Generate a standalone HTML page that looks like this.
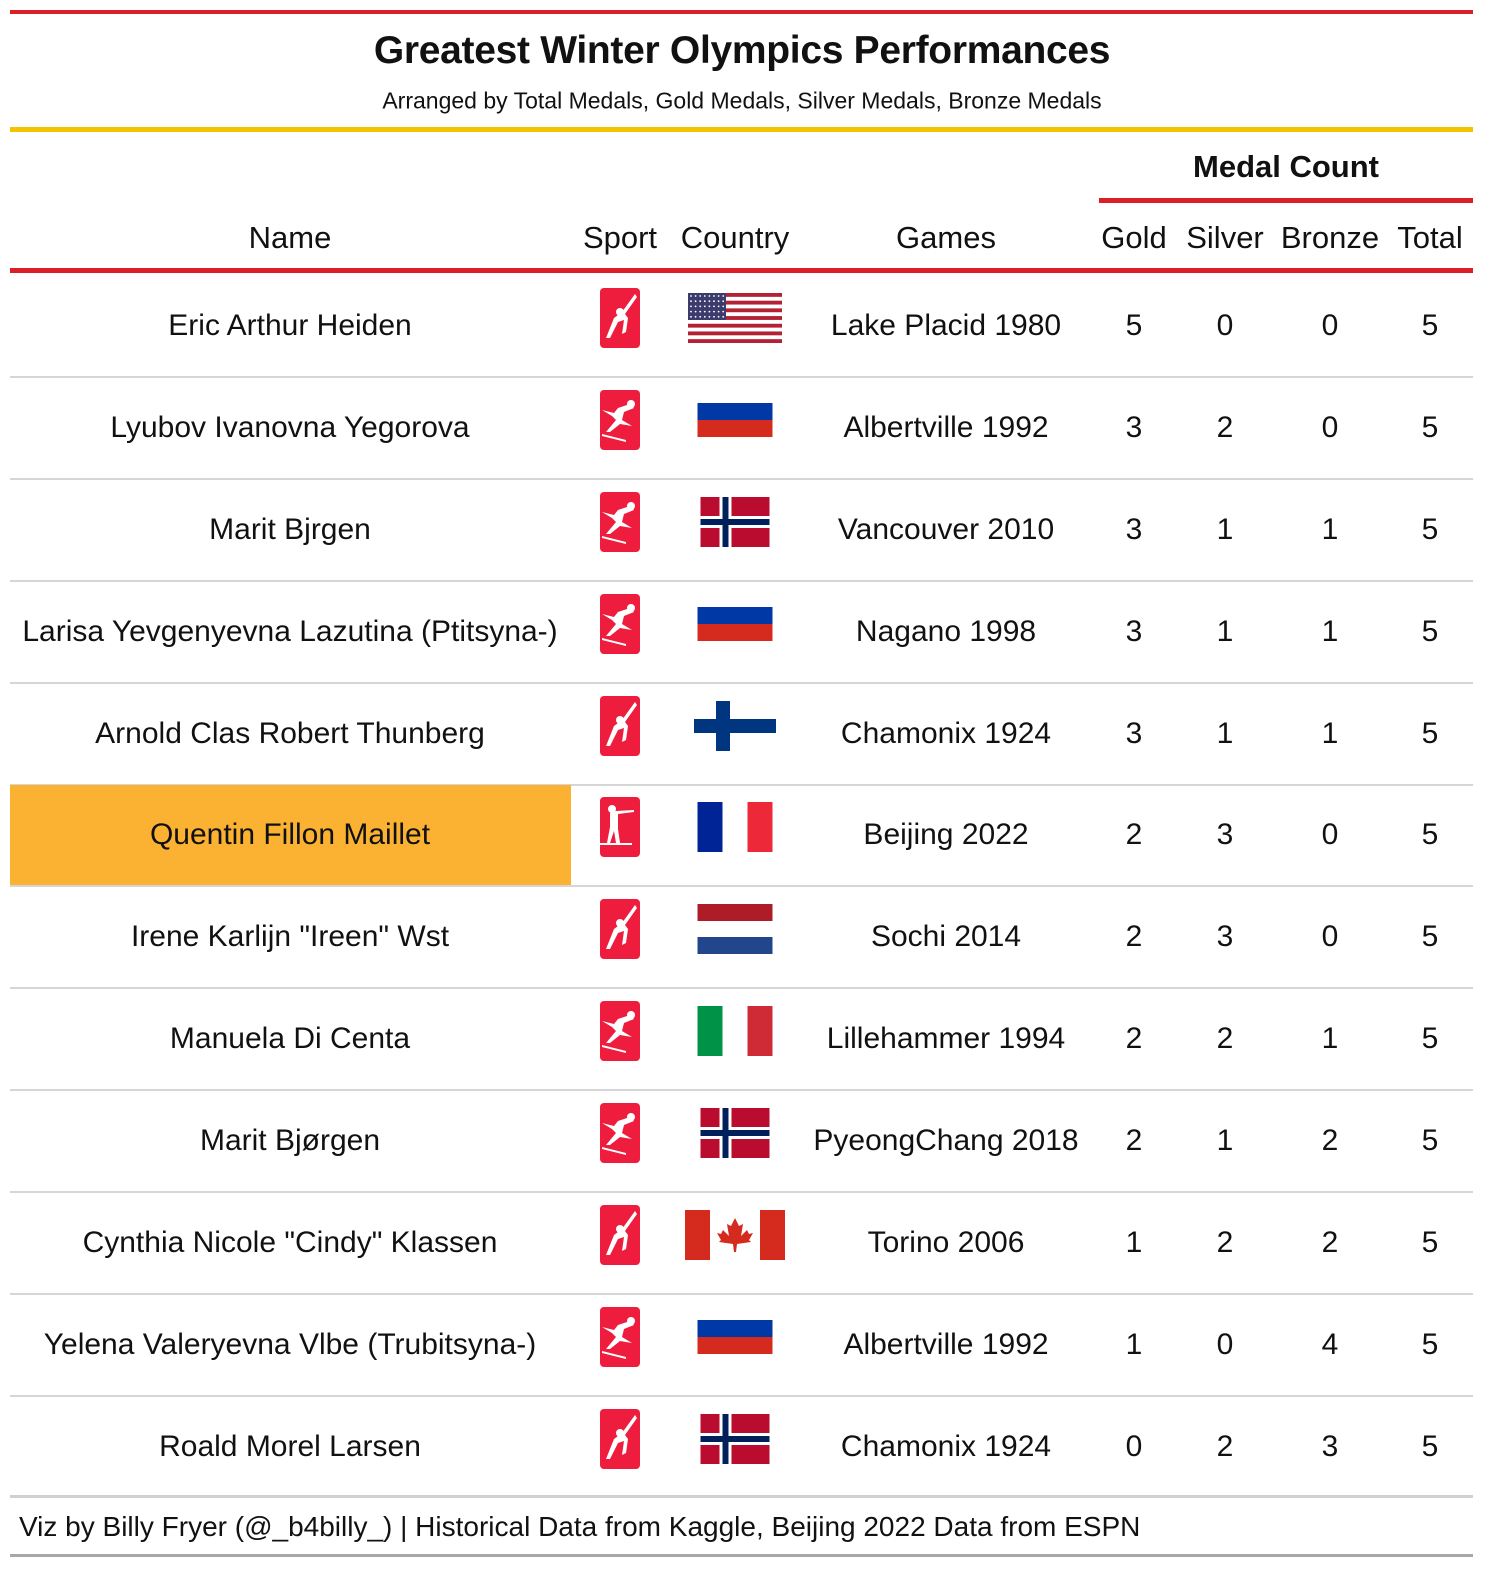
<!DOCTYPE html>
<html><head><meta charset="utf-8">
<style>
html,body{margin:0;overflow:hidden}
body{background:#fff;width:1500px;height:1586px;position:relative;font-family:"Liberation Sans",sans-serif;color:#111}
.a{position:absolute}
.t{position:absolute;transform:translate(-50%,-50%);white-space:nowrap;font-size:30px}
.hd{position:absolute;transform:translate(-50%,-50%);white-space:nowrap;font-size:31px}
</style></head><body>
<div class="a" style="left:10px;top:10px;width:1463px;height:4px;background:#da1f26"></div>
<div class="t" style="left:742px;top:51px;font-size:39px;font-weight:bold;letter-spacing:-0.3px">Greatest Winter Olympics Performances</div>
<div class="t" style="left:742px;top:101px;font-size:23px">Arranged by Total Medals, Gold Medals, Silver Medals, Bronze Medals</div>
<div class="a" style="left:10px;top:127px;width:1463px;height:5px;background:#f3c300"></div>
<div class="t" style="left:1286px;top:167px;font-size:31px;font-weight:bold">Medal Count</div>
<div class="a" style="left:1099px;top:198px;width:374px;height:5px;background:#da1f26"></div>
<div class="hd" style="left:290px;top:238px">Name</div>
<div class="hd" style="left:620px;top:238px">Sport</div>
<div class="hd" style="left:735px;top:238px">Country</div>
<div class="hd" style="left:946px;top:238px">Games</div>
<div class="hd" style="left:1134px;top:238px">Gold</div>
<div class="hd" style="left:1225px;top:238px">Silver</div>
<div class="hd" style="left:1330px;top:238px">Bronze</div>
<div class="hd" style="left:1430px;top:238px">Total</div>
<div class="a" style="left:10px;top:268px;width:1463px;height:5px;background:#da1f26"></div>
<div id="rows"></div>
<div class="a" style="left:10px;top:1495px;width:1463px;height:3px;background:#d0d0d0"></div>
<div class="a" style="left:19px;top:1511px;font-size:28px;white-space:nowrap">Viz by Billy Fryer (@_b4billy_) | Historical Data from Kaggle, Beijing 2022 Data from ESPN</div>
<div class="a" style="left:10px;top:1554px;width:1463px;height:3px;background:#a8a8a8"></div>
<script>
const names=["Eric Arthur Heiden","Lyubov Ivanovna Yegorova","Marit Bjrgen","Larisa Yevgenyevna Lazutina (Ptitsyna-)","Arnold Clas Robert Thunberg","Quentin Fillon Maillet","Irene Karlijn \"Ireen\" Wst","Manuela Di Centa","Marit Bjørgen","Cynthia Nicole \"Cindy\" Klassen","Yelena Valeryevna Vlbe (Trubitsyna-)","Roald Morel Larsen"];
const sports=["skate","ski","ski","ski","skate","biathlon","skate","ski","ski","skate","ski","skate"];
const countries=["USA","RUS","NOR","RUS","FIN","FRA","NED","ITA","NOR","CAN","RUS","NOR"];
const games=["Lake Placid 1980","Albertville 1992","Vancouver 2010","Nagano 1998","Chamonix 1924","Beijing 2022","Sochi 2014","Lillehammer 1994","PyeongChang 2018","Torino 2006","Albertville 1992","Chamonix 1924"];
const gold=[5,3,3,3,3,2,2,2,2,1,1,0];
const silver=[0,2,1,1,1,3,3,2,1,2,0,2];
const bronze=[0,0,1,1,1,0,0,1,2,2,4,3];
const highlightName="Quentin Fillon Maillet";

const top0=273,rowH=101.9;
function icon(kind){
 let g='<rect x="0" y="0" width="40" height="60" rx="4" fill="#ee1c3d"/>';
 if(kind==="skate") g+='<path d="M35 6 L22 24 L14 30 L6 50 L10 50 L18 34 L24 32 L22 46 L26 44 L28 30 L25 26 L37 9Z" fill="#fff"/><circle cx="20" cy="24" r="4" fill="#fff"/>';
 else if(kind==="ski") g+='<path d="M2 20 L14 23 L18 18 L30 14 L34 18 L24 22 L22 30 L32 36 L20 34 L10 42 L6 42 L16 30 L12 26Z" fill="#fff"/><circle cx="31" cy="14" r="4" fill="#fff"/><path d="M2 44 L26 50 L26 52 L2 46Z" fill="#fff"/>';
 else g+='<circle cx="12" cy="12" r="4" fill="#fff"/><path d="M10 16 L16 14 L34 13 L34 15 L18 17 L18 32 L20 46 L16 46 L14 34 L10 46 L7 46 L10 30Z" fill="#fff"/><rect x="0" y="46" width="32" height="2" fill="#fff"/>';
 return '<svg width="40" height="60">'+g+'</svg>';
}
function flag(c){
 if(c==="USA"){let s='<svg width="94" height="50"><rect width="94" height="50" fill="#fff"/>';for(let i=0;i<13;i+=2)s+='<rect y="'+(i*50/13)+'" width="94" height="'+(50/13)+'" fill="#b22234"/>';s+='<rect width="38" height="27" fill="#3c3b6e"/>';for(let r=0;r<5;r++)for(let k=0;k<8;k++)s+='<circle cx="'+(3+k*4.6)+'" cy="'+(3+r*5.2)+'" r="0.9" fill="#fff"/>';return s+'</svg>';}
 if(c==="RUS")return '<svg width="75" height="34"><rect width="75" height="17" fill="#0039a6"/><rect y="17" width="75" height="17" fill="#d52b1e"/></svg>';
 if(c==="NOR")return '<svg width="69" height="50"><rect width="69" height="50" fill="#ba0c2f"/><rect x="19" width="12" height="50" fill="#fff"/><rect y="19" width="69" height="12" fill="#fff"/><rect x="22" width="6" height="50" fill="#00205b"/><rect y="22" width="69" height="6" fill="#00205b"/></svg>';
 if(c==="FIN")return '<svg width="82" height="50"><rect x="22" width="14" height="50" fill="#003580"/><rect y="18" width="82" height="14" fill="#003580"/></svg>';
 if(c==="FRA")return '<svg width="75" height="50"><rect width="25" height="50" fill="#002395"/><rect x="50" width="25" height="50" fill="#ed2939"/></svg>';
 if(c==="ITA")return '<svg width="75" height="50"><rect width="25" height="50" fill="#009246"/><rect x="50" width="25" height="50" fill="#ce2b37"/></svg>';
 if(c==="NED")return '<svg width="75" height="50"><rect width="75" height="17" fill="#ae1c28"/><rect y="33" width="75" height="17" fill="#21468b"/></svg>';
 if(c==="CAN")return '<svg width="100" height="50"><rect width="25" height="50" fill="#d52b1e"/><rect x="75" width="25" height="50" fill="#d52b1e"/><path d="M50 8 L54 16 L58 14 L56 26 L62 20 L64 24 L68 23 L64 30 L66 32 L52 34 L51 42 L49 42 L48 34 L34 32 L36 30 L32 23 L36 24 L38 20 L44 26 L42 14 L46 16Z" fill="#d52b1e"/></svg>';
 return '';
}
const root=document.getElementById('rows');
names.forEach((n,i)=>{
 const y=top0+i*rowH, cy=y+rowH/2+2;
 const row=document.createElement('div');
 
 
 if(n===highlightName){
  const h=document.createElement('div');h.className='a';
  
  
  h.style.cssText='left:10px;top:'+(y+2)+'px;width:561px;height:'+(rowH-1)+'px;background:#fbb131';
  row.appendChild(h);
 }
 function txt(x,s,name){const d=document.createElement('div');d.className='t';d.style.left=x+'px';d.style.top=cy+'px';d.textContent=s;
  
  
  row.appendChild(d);}
 txt(290,n,'athlete-name');txt(946,games[i],'games-cell');
 txt(1134,gold[i],'gold-count');txt(1225,silver[i],'silver-count');txt(1330,bronze[i],'bronze-count');txt(1430,gold[i]+silver[i]+bronze[i],'total-count');
 const ic=document.createElement('div');ic.className='t';ic.style.left='620px';ic.style.top=(cy-8)+'px';ic.style.lineHeight='0';ic.innerHTML=icon(sports[i]);
 
 
 row.appendChild(ic);
 const fl=document.createElement('div');fl.className='t';fl.style.left='735px';fl.style.top=(cy-8)+'px';fl.style.lineHeight='0';fl.innerHTML=flag(countries[i]);
 
 
 row.appendChild(fl);
 if(i<names.length-1){const s=document.createElement('div');s.className='a';s.style.cssText='left:10px;top:'+(y+rowH+1)+'px;width:1463px;height:2px;background:#d6d6d6';
  
  
  row.appendChild(s);}
 root.appendChild(row);
});
</script>
</body></html>
